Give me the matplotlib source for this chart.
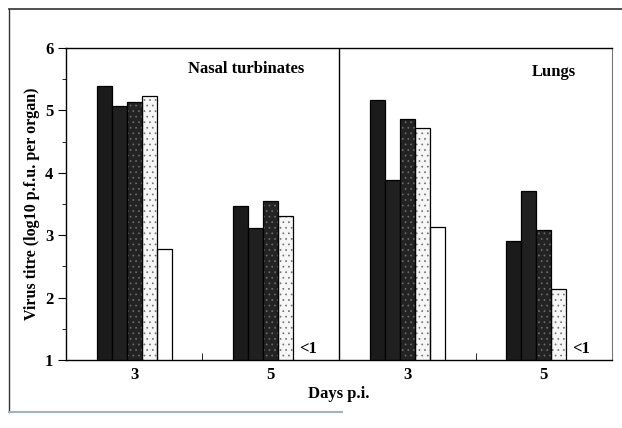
import matplotlib
matplotlib.use("Agg")
import matplotlib.pyplot as plt
from matplotlib.lines import Line2D
import numpy as np

# virus titre (log10 p.f.u. per organ), None = below detection (<1)
day_labels = ["3", "5", "3", "5"]
organs = ["Nasal turbinates", "Lungs"]
series_1 = [5.39, 3.47, 5.16, 2.90]
series_2 = [5.07, 3.11, 3.88, 3.70]
series_3 = [5.13, 3.55, 4.86, 3.09]
series_4 = [5.23, 3.31, 4.72, 2.13]
series_5 = [2.78, None, 3.13, None]

plt.rcParams["font.family"] = ["Liberation Serif", "DejaVu Serif"]
plt.rcParams["font.weight"] = "bold"
plt.rcParams["axes.labelweight"] = "bold"
plt.rcParams["hatch.linewidth"] = 0.5

# face, hatch, hatch colour for each series
styles = [
    ("#1b1b1b", None, None),
    ("#202020", None, None),
    ("#232323", "...", "#6e6e6e"),
    ("#f6f6f6", "...", "#707070"),
    ("white", None, None),
]


def draw_bars(ax, all_series, width):
    x = np.arange(len(day_labels))
    n = len(all_series)
    for i, vals in enumerate(all_series):
        face, hatch, hcol = styles[i]
        xs = x + (i - (n - 1) / 2) * width
        for xi, v in zip(xs, vals):
            if v is None:
                ax.text(xi - width / 2 + 0.04, 1.04, "<1", fontsize=12,
                        ha="left", va="bottom", fontweight="bold")
                continue
            if hatch:
                ax.bar(xi, v, width, color=face, hatch=hatch,
                       edgecolor=hcol, linewidth=0, zorder=2)
                ax.bar(xi, v, width, fill=False, edgecolor="black",
                       linewidth=0.9, zorder=3)
            else:
                ax.bar(xi, v, width, color=face, edgecolor="black",
                       linewidth=0.9, zorder=2)


def main():
    fig = plt.figure(figsize=(6.22, 4.28), dpi=100)
    ax = fig.add_axes([0.106, 0.159, 0.878, 0.729])

    draw_bars(ax, [series_1, series_2, series_3, series_4, series_5], 0.11)

    ax.set_xlim(-0.5, 3.5)
    ax.set_ylim(1, 6)
    ax.axvline(1.5, color="black", linewidth=1.0, zorder=4)

    ax.set_xticks(range(len(day_labels)), day_labels)
    ax.set_xticks([0.5, 2.5], minor=True)
    ax.tick_params(axis="x", which="major", length=0, labelsize=12, pad=5)
    ax.tick_params(axis="x", which="minor", direction="in", length=5)
    ax.set_yticks(range(1, 7))
    ax.set_yticks(np.arange(1.5, 6, 0.5), minor=True)
    ax.tick_params(axis="y", which="major", direction="out", length=6,
                   labelsize=12, pad=3)
    ax.tick_params(axis="y", which="minor", direction="out", length=3)

    for name in ["left", "bottom", "top"]:
        ax.spines[name].set_linewidth(1.0)
    ax.spines["right"].set_linewidth(0.8)
    ax.spines["right"].set_color("#777777")

    ax.text(0.82, 5.66, organs[0], fontsize=12, ha="center", va="center")
    ax.text(3.07, 5.62, organs[1], fontsize=12, ha="center", va="center")

    ax.set_xlabel("Days p.i.", fontsize=12, labelpad=2, fontweight="bold")
    ax.set_ylabel("Virus titre (log10 p.f.u. per organ)", fontsize=11.5,
                  labelpad=4, fontweight="bold")

    # border of the scanned figure
    fig.add_artist(Line2D([0.0145, 1.0], [0.979, 0.979], color="#333333",
                          linewidth=1.2))
    fig.add_artist(Line2D([0.0145, 0.0145], [0.037, 0.979], color="#333333",
                          linewidth=1.0))
    fig.add_artist(Line2D([0.0145, 0.55], [0.037, 0.037], color="#9fb4c0",
                          linewidth=1.5))

    fig.savefig("out.png", dpi=100)


if __name__ == "__main__":
    main()
